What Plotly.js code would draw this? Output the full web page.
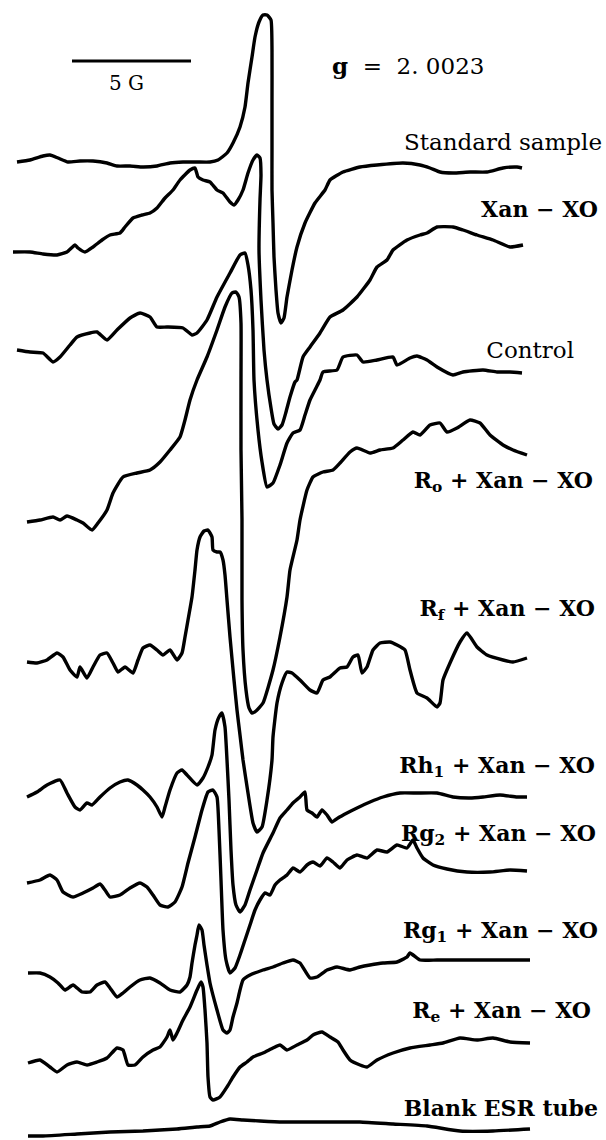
<!DOCTYPE html>
<html>
<head>
<meta charset="utf-8">
<script src="https://cdn.plot.ly/plotly-3.0.1.min.js"></script>
<style>html,body{margin:0;padding:0;background:#fff;}#chart{width:606px;height:1140px;}</style>
</head>
<body>
<div id="chart"></div>
<script>
// ---- ESR spectra: field position (x) and pen position (y) ----
const stdX = [17,30,43,50,58,68,80,93,107,117,130,143,157,170,183,197,210,218,227,233,240,245,248,252,255,259,263,267,271,272,272,272,272,273,274,276,278,281,284,287,292,297,305,315,325,330,343,360,377,403,420,430,440,453,470,487,503,517,522];
const stdY = [162,160,156,155,158,162,161,161,163,166,166,167,166,163,162,162,162,160,153,143,127,107,83,57,37,22,15,15,20,50,100,150,190,223,257,290,313,323,318,297,270,247,223,203,190,180,172,167,165,163,165,168,172,173,172,172,168,167,168];

const xanX = [13,30,43,57,67,75,78,85,93,102,110,120,125,133,142,150,157,165,173,180,190,195,198,203,210,217,223,230,234,238,243,248,253,257,260,261,260,259,261,264,267,271,274,278,282,286,290,295,297,303,310,320,330,343,357,370,377,387,393,407,420,427,437,453,463,477,493,510,523];
const xanY = [252,252,254,255,252,245,248,252,247,240,235,233,227,218,215,213,208,198,190,180,170,168,177,180,182,190,193,202,205,200,190,173,160,155,158,175,200,250,300,350,380,408,424,429,425,412,397,382,380,357,347,333,317,310,297,280,267,260,250,240,235,233,227,227,230,235,240,247,245];

const ctrlX = [17,30,43,53,60,70,77,90,97,107,117,130,140,150,157,167,183,192,197,207,217,230,240,245,248,251,253,254,258,262,267,273,280,287,293,300,305,310,316,320,323,337,343,357,363,377,393,397,410,417,427,437,453,463,483,497,510,522];
const ctrlY = [350,352,353,362,357,345,337,333,332,340,330,318,313,317,327,327,328,335,333,320,297,273,255,253,265,290,330,380,430,462,487,483,465,443,433,430,415,400,388,380,372,370,357,355,362,360,357,365,358,356,360,367,375,372,370,372,372,373];

const roX = [27,40,53,60,67,77,83,92,98,107,113,123,137,150,160,170,180,185,190,197,207,217,225,232,236,239,241,241,241,242,242,243,246,249,252,256,263,273,280,287,290,297,300,307,313,323,333,340,350,357,370,380,393,403,413,420,430,440,447,457,470,480,490,503,513,527];
const roY = [522,520,517,520,516,520,523,530,523,510,493,477,473,470,462,450,437,420,400,380,357,330,307,293,292,297,323,380,450,520,600,650,690,708,713,711,703,670,637,597,570,540,520,490,477,472,470,463,452,448,453,450,448,440,432,435,425,423,432,428,420,423,435,445,450,455];

const rfX = [27,37,47,57,63,70,77,80,87,93,100,107,113,118,125,133,138,143,150,157,163,170,177,182,185,188,192,195,197,200,204,208,212,213,217,220,223,225,227,230,234,237,240,243,248,253,257,262,267,272,273,277,282,287,292,300,310,317,323,330,340,347,353,358,362,367,373,380,390,397,405,410,417,427,437,440,443,450,460,467,477,487,503,513,527];
const rfY = [662,663,660,653,657,670,677,667,678,667,655,653,663,672,667,673,660,648,645,650,655,650,660,653,637,620,597,570,550,537,531,530,537,550,552,552,560,575,600,637,680,710,735,760,793,823,832,827,800,760,737,703,683,672,673,680,690,693,680,677,668,667,657,655,673,667,650,643,642,645,650,670,693,698,707,703,680,663,642,633,647,655,660,662,658];

const rh1X = [27,37,47,60,67,75,80,87,92,100,110,120,128,137,143,150,157,162,165,170,177,182,187,197,203,208,212,215,219,222,225,227,229,231,233,236,240,245,250,257,263,273,280,287,293,300,305,307,312,317,322,327,332,338,347,357,370,383,400,417,437,453,470,483,500,517,527];
const rh1Y = [797,792,785,780,793,807,810,803,805,797,788,782,780,785,790,797,807,817,807,790,773,770,775,785,778,767,755,730,717,713,727,760,800,850,885,905,912,905,890,870,853,833,818,810,803,797,792,810,813,817,810,815,822,818,813,808,802,797,793,793,793,797,798,797,795,797,797];

const rg2X = [27,40,50,57,63,73,83,93,100,105,110,120,130,140,147,153,160,168,175,182,188,195,202,208,213,217,219,221,223,226,230,235,240,245,250,255,260,265,270,275,280,287,293,300,307,313,320,327,333,340,347,357,367,377,387,397,407,413,417,423,433,447,467,490,510,527];
const rg2Y = [883,880,875,880,892,897,893,888,884,890,897,895,888,883,887,895,905,907,902,887,863,837,810,792,790,797,830,880,930,960,973,968,955,940,925,910,900,893,895,885,880,875,868,872,865,862,866,858,862,868,860,855,858,850,852,845,848,840,848,858,865,869,872,872,870,871];

const rg1X = [28,40,50,58,65,73,82,90,97,105,110,117,123,130,140,150,160,170,180,187,190,192,195,197,199,202,204,207,210,217,223,227,230,233,237,240,243,250,263,273,283,293,300,310,317,327,337,350,360,370,383,397,407,410,420,437,460,493,530];
const rg1Y = [973,973,977,983,990,985,992,992,985,982,988,997,993,987,980,978,983,990,992,985,977,963,945,935,925,930,945,965,983,1010,1030,1033,1030,1017,1003,990,980,975,970,967,963,960,963,978,977,970,967,970,967,965,963,962,957,953,960,960,960,960,960];

const reX = [28,40,50,57,67,77,87,97,107,117,123,128,135,143,153,160,167,170,173,177,183,190,197,201,203,205,207,208,210,213,220,227,233,240,247,253,263,273,280,287,297,307,313,322,330,338,343,350,360,367,377,393,410,430,443,460,477,493,510,530];
const reY = [1063,1060,1067,1072,1065,1062,1065,1062,1058,1048,1050,1065,1065,1057,1050,1047,1037,1030,1040,1033,1020,1007,990,982,987,1010,1043,1077,1097,1100,1097,1087,1077,1067,1062,1057,1053,1048,1045,1050,1045,1040,1035,1032,1037,1042,1050,1060,1065,1067,1060,1053,1048,1045,1043,1038,1040,1038,1042,1043];

const blankX = [28,43,77,110,143,177,197,210,220,230,243,260,283,303,327,360,393,427,460,493,530];
const blankY = [1136,1136,1134,1132,1131,1129,1127,1126,1122,1119,1120,1121,1122,1122,1122,1122,1124,1126,1131,1131,1129];

// curve labels (right edge position, vertical position)
const labelText = ["Standard sample","<b>Xan − XO</b>","Control","<b>R<sub>o</sub> + Xan − XO</b>","<b>R<sub>f</sub> + Xan − XO</b>","<b>Rh<sub>1</sub> + Xan − XO</b>","<b>Rg<sub>2</sub> + Xan − XO</b>","<b>Rg<sub>1</sub> + Xan − XO</b>","<b>R<sub>e</sub> + Xan − XO</b>","<b>Blank ESR tube</b>"];
const labelX = [602,598,574,593,595,595,596,598,591,598];
const labelY = [144,211,352,482,610,767,835,932,1012,1110];
const labelSize = [23,22,23,22,22,22,22,22,22,22];

const series = [[stdX,stdY],[xanX,xanY],[ctrlX,ctrlY],[roX,roY],[rfX,rfY],[rh1X,rh1Y],[rg2X,rg2Y],[rg1X,rg1Y],[reX,reY],[blankX,blankY]];

const traces = series.map(function(s){
  return {x:s[0], y:s[1], type:'scatter', mode:'lines', hoverinfo:'skip',
          line:{color:'#000', width:3.4, shape:'spline', smoothing:0.45}, showlegend:false};
});
traces.push({x:labelX, y:labelY, text:labelText, type:'scatter', mode:'text', textposition:'middle left',
             textfont:{family:'DejaVu Serif', size:labelSize, color:'#000'}, hoverinfo:'skip', showlegend:false, cliponaxis:false});

const annotations = [
  {x:408, y:65, xref:'x', yref:'y', text:'<b>g</b>  =  2. 0023', showarrow:false, xanchor:'center', yanchor:'middle', font:{family:'DejaVu Serif', size:23, color:'#000'}},
  {x:126, y:83, xref:'x', yref:'y', text:'5 G', showarrow:false, xanchor:'center', yanchor:'middle', font:{family:'DejaVu Serif', size:20, color:'#000'}}
];

const layout = {
  width:606, height:1140,
  margin:{l:0,r:0,t:0,b:0},
  paper_bgcolor:'#fff', plot_bgcolor:'#fff',
  font:{family:'DejaVu Serif', size:22, color:'#000'},
  xaxis:{range:[0,606], visible:false, fixedrange:true},
  yaxis:{range:[1140,0], visible:false, fixedrange:true},
  annotations:annotations,
  shapes:[{type:'line', xref:'x', yref:'y', x0:72, x1:191, y0:61, y1:61, line:{color:'#000', width:3}}]
};

Plotly.newPlot('chart', traces, layout, {displayModeBar:false});
</script>
</body>
</html>
